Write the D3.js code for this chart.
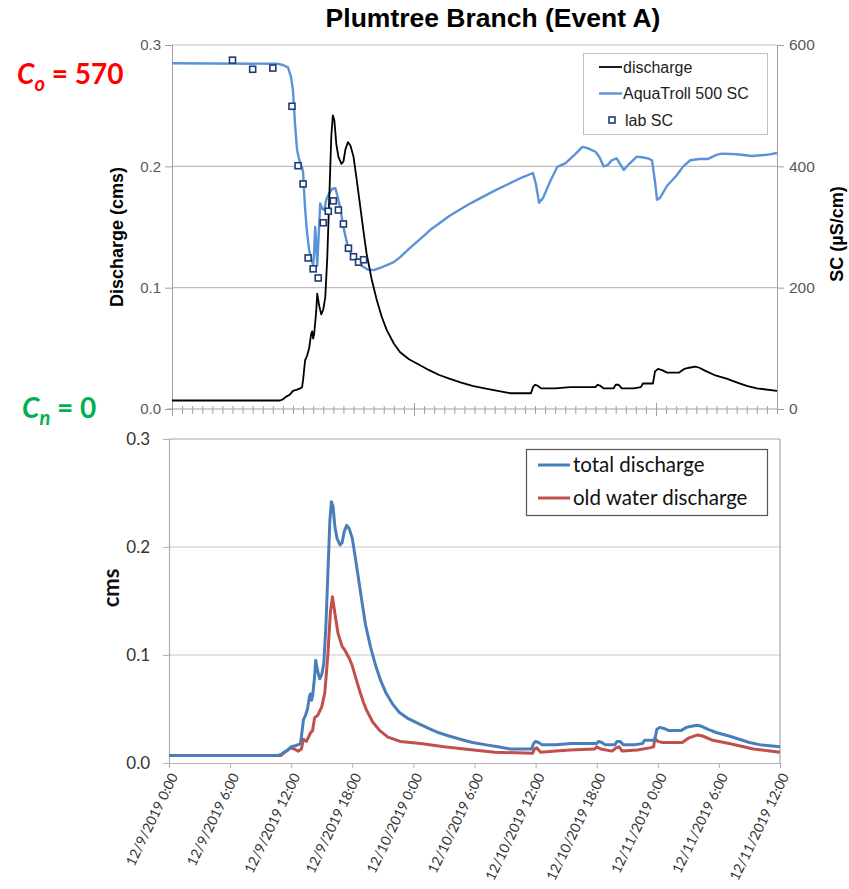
<!DOCTYPE html>
<html>
<head>
<meta charset="utf-8">
<style>
  body { margin: 0; background: #fff; }
  svg { display: block; }
  .top text { font-family: "Liberation Sans", Arial, sans-serif; }
  .bot text { font-family: Lato, "Open Sans", sans-serif; }
</style>
<script src="https://d3js.org/d3.v7.min.js"></script>
</head>
<body>
<svg width="849" height="889"></svg>
<script>
// hours since 12/9/2019 0:00
var qHours = [0,10.7,11.0,11.3,11.7,12.0,12.4,12.7,12.9,13.0,13.2,13.4,13.6,13.8,13.9,14.0,14.1,14.3,14.4,14.6,14.8,15.0,15.2,15.4,15.6,15.8,15.95,16.1,16.3,16.5,16.8,17.0,17.2,17.45,17.7,18.0,18.3,18.65,19.0,19.3,19.8,20.3,20.8,21.3,22.0,22.6,23.5,24.6,25.5,26.5,27.5,28.6,29.8,31,32.3,33.5,35.6,35.8,36.0,36.3,36.6,38,39.5,42.0,42.2,42.5,42.8,43.8,44.0,44.3,44.6,45.8,46.5,46.7,47.7,47.9,48.2,48.6,49.1,50.3,50.8,51.3,51.9,52.3,53.0,53.8,55,56,57,58,60];
var qTotal = [0.007,0.007,0.008,0.010,0.012,0.015,0.016,0.017,0.018,0.024,0.040,0.044,0.050,0.062,0.064,0.058,0.062,0.080,0.095,0.085,0.078,0.082,0.092,0.125,0.175,0.225,0.242,0.238,0.218,0.208,0.202,0.204,0.214,0.220,0.217,0.208,0.190,0.168,0.146,0.128,0.107,0.090,0.076,0.065,0.054,0.047,0.041,0.036,0.032,0.028,0.025,0.022,0.019,0.017,0.015,0.013,0.013,0.018,0.020,0.019,0.017,0.017,0.018,0.018,0.020,0.019,0.017,0.017,0.020,0.020,0.017,0.017,0.018,0.021,0.021,0.031,0.033,0.032,0.030,0.030,0.033,0.034,0.035,0.034,0.031,0.028,0.025,0.022,0.019,0.017,0.015];

var oldHours = [0,11.0,11.4,11.9,12.3,12.7,13.0,13.2,13.5,13.9,14.1,14.3,14.6,15.0,15.3,15.6,15.85,16.05,16.3,16.6,17.0,17.3,17.7,18.0,18.4,18.75,19.1,19.4,20.0,20.7,21.5,22.7,24.7,27,29.9,32,35.7,35.9,36.1,36.5,38,39.4,41.8,42.0,42.4,43.5,43.9,44.2,44.5,46,47.2,47.6,47.7,48.0,48.5,50.4,51.0,51.9,52.4,53.4,55,57.4,60];
var qOld = [0.007,0.007,0.010,0.014,0.013,0.011,0.013,0.022,0.020,0.028,0.030,0.042,0.044,0.052,0.065,0.100,0.140,0.154,0.138,0.120,0.108,0.104,0.097,0.090,0.077,0.066,0.056,0.049,0.038,0.030,0.024,0.020,0.018,0.015,0.012,0.010,0.009,0.013,0.014,0.010,0.011,0.012,0.013,0.015,0.013,0.011,0.014,0.015,0.011,0.012,0.014,0.015,0.023,0.020,0.019,0.019,0.023,0.026,0.025,0.021,0.018,0.013,0.010];

var scHours = [0,10.5,11.0,11.5,11.8,12.0,12.2,12.4,12.7,12.9,13.0,13.2,13.4,13.6,13.8,14.0,14.1,14.2,14.3,14.4,14.5,14.7,14.9,15.1,15.3,15.6,15.9,16.2,16.4,16.7,17.0,17.4,17.8,18.2,18.8,19.4,20.0,20.7,21.3,22.0,22.6,23.5,24.6,25.6,27.5,29.6,32,34.5,35.8,36.1,36.4,36.8,37.5,38.2,39,40.0,40.7,41.2,42.0,42.4,42.8,43.2,43.6,44.1,44.5,44.8,45.4,46.1,46.6,47.2,47.6,47.9,48.1,48.4,49.1,50,50.7,51.4,52.3,53.1,54.0,54.5,56,57.5,59,60];
var scTroll = [570,569,567,563,548,525,470,427,405,398,390,330,290,262,248,237,260,300,275,236,270,339,330,328,345,356,363,364,352,330,300,270,254,246,236,230,229,233,237,242,250,264,280,295,318,339,360,380,389,370,340,348,375,399,405,420,432,430,424,415,400,402,410,413,402,394,405,416,415,413,410,375,345,348,368,384,400,410,412,412,419,421,420,417,419,422];

var labHours = [6,8,10,11.9,12.5,13,13.5,14,14.5,15,15.5,16,16.5,17,17.5,18,18.5,19];
var labSC = [575,560,562,499,401,371,249,231,216,307,326,343,328,305,265,251,242,246];

var qTicks = [0, 0.1, 0.2, 0.3];
var qTickLabels = ["0.0", "0.1", "0.2", "0.3"];
var scTicks = [0, 200, 400, 600];
var timeTicks = [0, 6, 12, 18, 24, 30, 36, 42, 48, 54, 60];
var timeTickLabels = ["12/9/2019 0:00", "12/9/2019 6:00", "12/9/2019 12:00", "12/9/2019 18:00",
  "12/10/2019 0:00", "12/10/2019 6:00", "12/10/2019 12:00", "12/10/2019 18:00",
  "12/11/2019 0:00", "12/11/2019 6:00", "12/11/2019 12:00"];

var svg = d3.select("svg");
function pairs(h, v) { return h.map(function(t, i) { return [t, v[i]]; }); }

// ---------- top chart ----------
var gTop = svg.append("g").attr("class", "top");
var x1 = d3.scaleLinear().domain([0, 60]).range([172, 777]),
    yL = d3.scaleLinear().domain([0, 0.3]).range([409, 45]),
    yR = d3.scaleLinear().domain([0, 600]).range([409, 45]);

gTop.append("text").attr("x", 493).attr("y", 27).attr("text-anchor", "middle")
  .attr("font-size", 26.5).attr("font-weight", "bold").text("Plumtree Branch (Event A)");

gTop.selectAll(".grid").data(qTicks.slice(1)).enter().append("line")
  .attr("x1", 172).attr("x2", 777)
  .attr("y1", function(d) { return yL(d); }).attr("y2", function(d) { return yL(d); })
  .attr("stroke", "#bdbdbd").attr("stroke-width", 1.2);

var axL = gTop.append("g").attr("transform", "translate(172,0)")
  .call(d3.axisLeft(yL).tickValues(qTicks).tickFormat(function(d, i) { return qTickLabels[i]; }).tickSize(7).tickPadding(4));
axL.select(".domain").attr("stroke", "#a0a0a0");
axL.selectAll(".tick line").attr("stroke", "#a0a0a0");
axL.selectAll("text").attr("font-size", 15).attr("fill", "#595959");

var axR = gTop.append("g").attr("transform", "translate(777,0)")
  .call(d3.axisRight(yR).tickValues(scTicks).tickSize(7).tickPadding(5));
axR.select(".domain").attr("stroke", "#a0a0a0");
axR.selectAll(".tick line").attr("stroke", "#a0a0a0");
axR.selectAll("text").attr("font-size", 15.5).attr("fill", "#595959");

var axB = gTop.append("g").attr("transform", "translate(0,409)")
  .call(d3.axisBottom(x1).tickValues(d3.range(0, 61)).tickSize(4).tickFormat(""));
axB.select(".domain").attr("stroke", "#a0a0a0").attr("d", "M167,0H777");
axB.selectAll(".tick line").attr("stroke", "#a0a0a0")
  .attr("y1", function(d) { return d % 24 === 0 ? -6 : -3; })
  .attr("y2", function(d) { return d % 24 === 0 ? 7 : 5; });

gTop.append("text").attr("transform", "translate(123,237) rotate(-90)").attr("text-anchor", "middle")
  .attr("font-size", 18).attr("font-weight", "bold").text("Discharge (cms)");
gTop.append("text").attr("transform", "translate(843,234) rotate(-90)").attr("text-anchor", "middle")
  .attr("font-size", 18).attr("font-weight", "bold").text("SC (\u00b5S/cm)");

gTop.append("path").datum(pairs(scHours, scTroll))
  .attr("fill", "none").attr("stroke", "#5b93d9").attr("stroke-width", 2.4).attr("stroke-linejoin", "round")
  .attr("d", d3.line().x(function(d) { return x1(d[0]); }).y(function(d) { return yR(d[1]); }));

gTop.append("path").datum(pairs(qHours, qTotal))
  .attr("fill", "none").attr("stroke", "#000").attr("stroke-width", 1.8).attr("stroke-linejoin", "round")
  .attr("d", d3.line().x(function(d) { return x1(d[0]); }).y(function(d) { return yL(d[1]); }));

gTop.selectAll(".lab").data(pairs(labHours, labSC)).enter().append("rect")
  .attr("x", function(d) { return x1(d[0]) - 3; }).attr("y", function(d) { return yR(d[1]) - 3; })
  .attr("width", 6).attr("height", 6)
  .attr("fill", "#fff").attr("stroke", "#1f3b73").attr("stroke-width", 1.6);

// top legend
gTop.append("rect").attr("x", 583.5).attr("y", 53.5).attr("width", 184).attr("height", 81)
  .attr("fill", "#fff").attr("stroke", "#c0c0c0");
var legTop = [{ name: "discharge", c: "#000", w: 1.8 }, { name: "AquaTroll 500 SC", c: "#5b93d9", w: 2.4 }, { name: "lab SC" }];
legTop.forEach(function(d, i) {
  var yy = 67 + i * 26.5;
  if (d.c) {
    gTop.append("line").attr("x1", 599).attr("x2", 622).attr("y1", yy).attr("y2", yy).attr("stroke", d.c).attr("stroke-width", d.w);
  } else {
    gTop.append("rect").attr("x", 609).attr("y", yy - 3).attr("width", 6).attr("height", 6)
      .attr("fill", "#fff").attr("stroke", "#1f3b73").attr("stroke-width", 1.6);
  }
  gTop.append("text").attr("x", i === 2 ? 625 : 623).attr("y", yy + 5.5).attr("font-size", 16).attr("fill", "#222").text(d.name);
});

// ---------- bottom chart ----------
var gBot = svg.append("g").attr("class", "bot");
var x2 = d3.scaleLinear().domain([0, 60]).range([169, 780]),
    y2 = d3.scaleLinear().domain([0, 0.3]).range([763, 439]);

gBot.selectAll(".grid").data(qTicks.slice(1)).enter().append("line")
  .attr("x1", 169).attr("x2", 780)
  .attr("y1", function(d) { return y2(d); }).attr("y2", function(d) { return y2(d); })
  .attr("stroke", function(d) { return d === 0.3 ? "#a6a6a6" : "#c8c8c8"; }).attr("stroke-width", 1.2);
gBot.append("line").attr("x1", 780).attr("x2", 780).attr("y1", 439).attr("y2", 763).attr("stroke", "#a6a6a6").attr("stroke-width", 1.2);

var bL = gBot.append("g").attr("transform", "translate(169,0)")
  .call(d3.axisLeft(y2).tickValues(qTicks).tickFormat(function(d, i) { return qTickLabels[i]; }).tickSize(6).tickPadding(13));
bL.select(".domain").attr("stroke", "#b0b0b0").attr("stroke-width", 1.2);
bL.selectAll(".tick line").attr("stroke", "#b0b0b0");
bL.selectAll("text").attr("font-size", 17).attr("fill", "#333");

var bB = gBot.append("g").attr("transform", "translate(0,763)")
  .call(d3.axisBottom(x2).tickValues(timeTicks).tickSize(5).tickFormat(""));
bB.select(".domain").attr("stroke", "#b0b0b0").attr("stroke-width", 1.2);
bB.selectAll(".tick line").attr("stroke", "#b0b0b0");
gBot.selectAll(".tlab").data(timeTicks).enter().append("text")
  .attr("transform", function(d) { return "translate(" + (x2(d) + 5) + ",774) rotate(-64)"; })
  .attr("text-anchor", "end").attr("dy", "0.35em").attr("font-size", 14).attr("fill", "#333")
  .text(function(d, i) { return timeTickLabels[i]; });

gBot.append("text").attr("transform", "translate(119,588) rotate(-90)").attr("text-anchor", "middle")
  .attr("font-size", 22).attr("font-weight", "bold").attr("fill", "#111").text("cms");

gBot.append("path").datum(pairs(oldHours, qOld))
  .attr("fill", "none").attr("stroke", "#c0504d").attr("stroke-width", 3).attr("stroke-linejoin", "round")
  .attr("d", d3.line().x(function(d) { return x2(d[0]); }).y(function(d) { return y2(d[1]); }));
gBot.append("path").datum(pairs(qHours, qTotal))
  .attr("fill", "none").attr("stroke", "#4a7ebb").attr("stroke-width", 3).attr("stroke-linejoin", "round")
  .attr("d", d3.line().x(function(d) { return x2(d[0]); }).y(function(d) { return y2(d[1]); }));

gBot.append("rect").attr("x", 526.5).attr("y", 449.5).attr("width", 241).attr("height", 66)
  .attr("fill", "#fff").attr("stroke", "#555").attr("stroke-width", 1.2);
[{ name: "total discharge", c: "#4a7ebb" }, { name: "old water discharge", c: "#c0504d" }].forEach(function(d, i) {
  var yy = 465 + i * 33;
  gBot.append("line").attr("x1", 538).attr("x2", 570).attr("y1", yy).attr("y2", yy).attr("stroke", d.c).attr("stroke-width", 3);
  gBot.append("text").attr("x", 573).attr("y", yy + 7).attr("font-size", 20.5).attr("fill", "#111").text(d.name);
});

// ---------- end-member labels ----------
var lab = svg.append("g").attr("font-family", "Lato, 'Open Sans', sans-serif").attr("font-weight", "bold");
var co = lab.append("text").attr("x", 17).attr("y", 84).attr("font-size", 28).attr("fill", "#ff0000");
co.append("tspan").attr("font-style", "italic").text("C");
co.append("tspan").attr("font-style", "italic").attr("font-size", 20).attr("dy", 7).text("o");
co.append("tspan").attr("dy", -7).text(" = 570");
var cn = lab.append("text").attr("x", 22).attr("y", 418).attr("font-size", 28).attr("fill", "#00b050");
cn.append("tspan").attr("font-style", "italic").text("C");
cn.append("tspan").attr("font-style", "italic").attr("font-size", 20).attr("dy", 7).text("n");
cn.append("tspan").attr("dy", -7).text(" = 0");
</script>
</body>
</html>
